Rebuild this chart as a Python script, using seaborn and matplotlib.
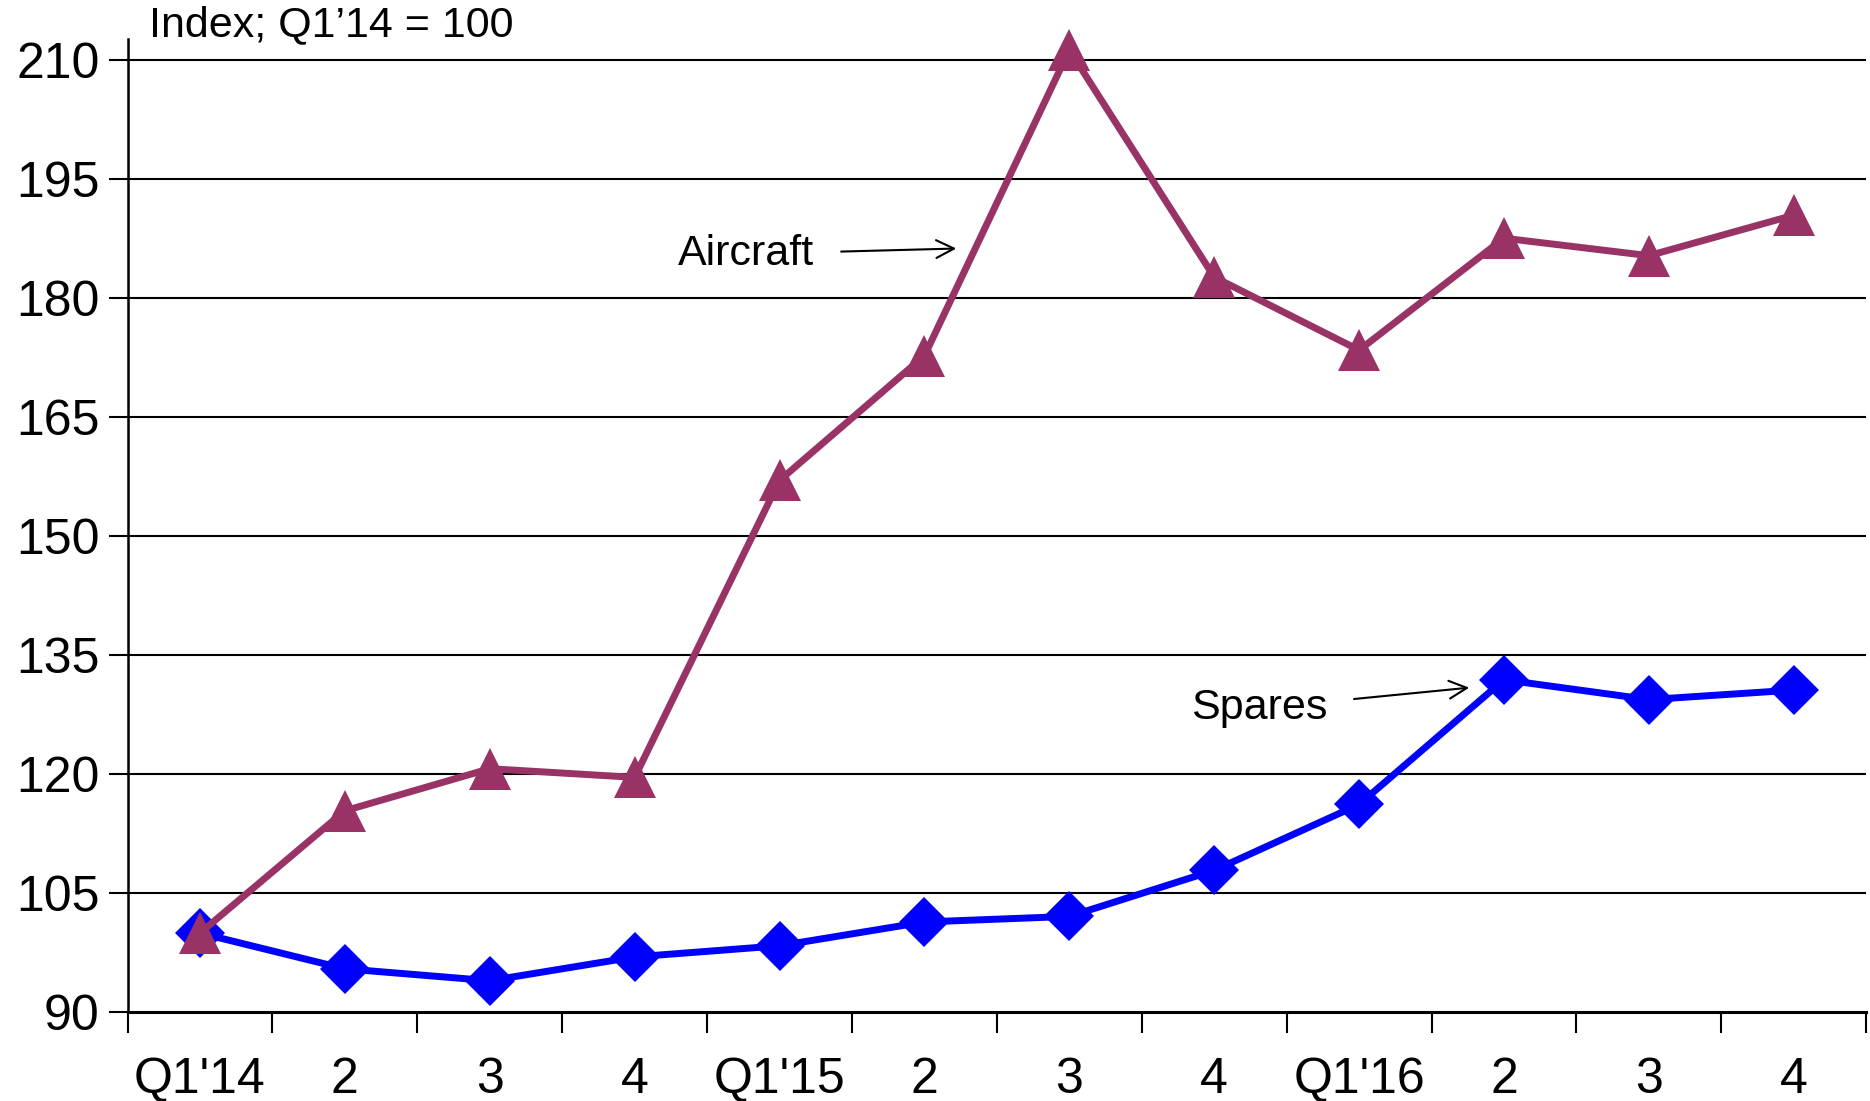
import matplotlib
matplotlib.use("Agg")
import matplotlib.pyplot as plt
import seaborn as sns
import pandas as pd
import numpy as np

categories = ["Q1'14", "2", "3", "4", "Q1'15", "2", "3", "4", "Q1'16", "2", "3", "4"]
aircraft = [100.0, 115.4, 120.7, 119.6, 157.0, 172.7, 211.2, 182.6, 173.4, 187.5, 185.3, 190.4]
spares = [100.0, 95.5, 94.0, 97.0, 98.4, 101.4, 102.1, 107.9, 116.2, 131.9, 129.4, 130.6]
yticks = [90, 105, 120, 135, 150, 165, 180, 195, 210]

sns.set_style("white")
plt.rcParams['font.family'] = ['Liberation Sans', 'DejaVu Sans']
plt.rcParams['text.color'] = 'black'
plt.rcParams['xtick.color'] = 'black'
plt.rcParams['ytick.color'] = 'black'

idx = np.arange(len(categories))
df = pd.DataFrame({"idx": idx, "Aircraft": aircraft, "Spares": spares})

fig = plt.figure(figsize=(18.7, 11.01), dpi=100)
ax = fig.add_axes([0.0682, 0.0804, 0.9298, 0.8843])

sns.lineplot(data=df, x="idx", y="Spares", ax=ax, color="#0000FF", lw=5,
             marker="D", markersize=25, markeredgewidth=0, clip_on=False, zorder=3)
sns.lineplot(data=df, x="idx", y="Aircraft", ax=ax, color="#993366", lw=5,
             marker="^", markersize=30, markeredgewidth=0, clip_on=False, zorder=4)

ax.set_xlim(-0.5, len(categories) - 0.5)
ax.set_ylim(90, 212.6)
ax.set_yticks(yticks)
ax.set_yticklabels([str(v) for v in yticks], fontsize=36)
ax.set_xticks(idx)
ax.set_xticklabels(categories, fontsize=36)
ax.set_xticks(np.arange(-0.5, len(categories), 1.0), minor=True)
ax.tick_params(axis="x", which="major", length=0, pad=32)
ax.tick_params(axis="x", which="minor", length=15, width=1.5, direction="out", color="black", bottom=True)
ax.tick_params(axis="y", which="major", length=14, width=1.5, direction="out", color="black", pad=6, left=True)
ax.set_xlabel("")
ax.set_ylabel("")

for v in yticks[1:]:
    ax.axhline(v, color="black", lw=1.5, zorder=1)

for s in ["top", "right"]:
    ax.spines[s].set_visible(False)
ax.spines["left"].set_color("black")
ax.spines["bottom"].set_color("black")
ax.spines["left"].set_linewidth(1.8)
ax.spines["bottom"].set_linewidth(2.2)

fig.text(0.0797, 0.995, "Index; Q1\u201914 = 100", fontsize=31, ha="left", va="top")

ax.annotate("Aircraft", xy=(5.22, 186.2), xytext=(4.24, 185.5), fontsize=31,
            ha="right", va="center",
            arrowprops=dict(arrowstyle="->", color="black", lw=1.5, mutation_scale=32,
                            shrinkA=17, shrinkB=0))
ax.annotate("Spares", xy=(8.76, 130.9), xytext=(7.78, 128.3), fontsize=31,
            ha="right", va="center",
            arrowprops=dict(arrowstyle="->", color="black", lw=1.5, mutation_scale=32,
                            shrinkA=17, shrinkB=0))

fig.savefig("out.png", dpi=100)
